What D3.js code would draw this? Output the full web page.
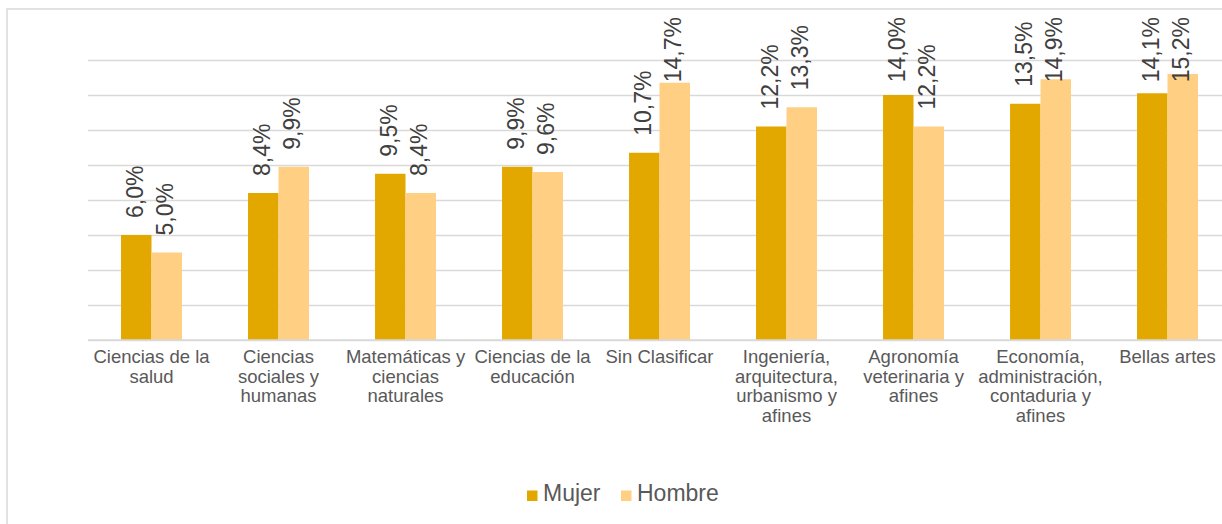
<!DOCTYPE html>
<html>
<head>
<meta charset="utf-8">
<script src="https://cdn.jsdelivr.net/npm/d3@7/dist/d3.min.js"></script>
<style>
    body { margin: 0; background: #ffffff; }
    svg { display: block; font-family: "Liberation Sans", Arial, Helvetica, sans-serif; }
</style>
</head>
<body>
<div id="chart"></div>
<script>
// categorias (con sus saltos de linea) y valores en %
let categories = [
    ["Ciencias de la", "salud"],
    ["Ciencias", "sociales y", "humanas"],
    ["Matemáticas y", "ciencias", "naturales"],
    ["Ciencias de la", "educación"],
    ["Sin Clasificar"],
    ["Ingeniería,", "arquitectura,", "urbanismo y", "afines"],
    ["Agronomía", "veterinaria y", "afines"],
    ["Economía,", "administración,", "contaduria y", "afines"],
    ["Bellas artes"]
];
let mujer  = [6.0, 8.4, 9.5, 9.9, 10.7, 12.2, 14.0, 13.5, 14.1];
let hombre = [5.0, 9.9, 8.4, 9.6, 14.7, 13.3, 12.2, 14.9, 15.2];
let seriesNames = ["Mujer", "Hombre"];
let seriesColors = ["#E3A800", "#FFCF84"];
let yTicks = [0, 2, 4, 6, 8, 10, 12, 14, 16];

const width = 1222, height = 524;
const margin = {top: 60, left: 88, bottom: 184};
const plotRight = 88 + 9 * 127;

let svg = d3.select("#chart")
    .append("svg")
    .attr("width", width)
    .attr("height", height);

// marco del grafico
svg.append("rect")
    .attr("x", 7)
    .attr("y", 9)
    .attr("width", 1260)
    .attr("height", 560)
    .attr("fill", "none")
    .attr("stroke", "#d9d9d9")
    .attr("stroke-width", 1.5);

let keys = d3.range(categories.length);

let x = d3.scaleBand()
    .domain(keys)
    .range([margin.left, plotRight]);

let y = d3.scaleLinear()
    .domain([0, 16])
    .range([height - margin.bottom, margin.top]);

let barW = x.bandwidth() * 0.24;

// lineas de cuadricula
let yAxis = d3.axisLeft(y)
    .tickValues(yTicks)
    .tickSize(-(plotRight - margin.left))
    .tickFormat("");

let gy = svg.append("g")
    .attr("transform", "translate(" + margin.left + ",0)")
    .call(yAxis);
gy.select(".domain").remove();
gy.selectAll(".tick line")
    .attr("stroke", "#d9d9d9")
    .attr("stroke-width", 1.5);

// barras
let rows = keys.map(i => ({i: i, values: [mujer[i], hombre[i]]}));

let groups = svg.selectAll(".cat")
    .data(rows)
    .join("g")
    .attr("class", "cat");

groups.selectAll("rect")
    .data(d => d.values.map((v, s) => ({i: d.i, s: s, v: v})))
    .join("rect")
    .attr("x", d => x(d.i) + x.bandwidth() / 2 - barW + d.s * barW)
    .attr("y", d => y(d.v))
    .attr("width", barW)
    .attr("height", d => y(0) - y(d.v))
    .attr("fill", d => seriesColors[d.s]);

// etiquetas de datos (rotadas)
let fmt = v => v.toFixed(1).replace(".", ",") + "%";

groups.selectAll("text.lbl")
    .data(d => d.values.map((v, s) => ({i: d.i, s: s, v: v})))
    .join("text")
    .attr("class", "lbl")
    .style("font-size", "23px")
    .style("fill", "#404040")
    .attr("dy", "0.35em")
    .text(d => fmt(d.v))
    .each(function(d) {
        let len = this.getComputedTextLength();
        let cx = x(d.i) + x.bandwidth() / 2 - barW / 2 + d.s * barW - 1.5;
        let start = y(d.v) - 17;
        if (start - len < 17) start = 17 + len;
        d3.select(this).attr("transform", "translate(" + cx + "," + start + ") rotate(-90)");
    });

// linea base
svg.append("line")
    .attr("x1", margin.left)
    .attr("x2", plotRight)
    .attr("y1", y(0))
    .attr("y2", y(0))
    .attr("stroke", "#d9d9d9")
    .attr("stroke-width", 1.5);

// etiquetas de categorias
let catText = svg.selectAll(".catlbl")
    .data(keys)
    .join("text")
    .attr("class", "catlbl")
    .attr("text-anchor", "middle")
    .style("font-size", "18.5px")
    .style("fill", "#595959")
    .attr("transform", d => "translate(" + (x(d) + x.bandwidth() / 2) + "," + (y(0) + 23) + ")");

catText.selectAll("tspan")
    .data(d => categories[d])
    .join("tspan")
    .attr("x", 0)
    .attr("y", (d, j) => j * 19.5)
    .text(d => d);

// leyenda
let legend = svg.append("g")
    .attr("transform", "translate(527,490.5)");

let legendX = [0, 94];
seriesNames.forEach(function(name, s) {
    let g = legend.append("g").attr("transform", "translate(" + legendX[s] + ",0)");
    g.append("rect")
        .attr("width", 10.5)
        .attr("height", 10.5)
        .attr("fill", seriesColors[s]);
    g.append("text")
        .attr("x", 16)
        .attr("y", 10.5)
        .style("font-size", "23px")
        .style("fill", "#595959")
        .text(name);
});
</script>
</body>
</html>
